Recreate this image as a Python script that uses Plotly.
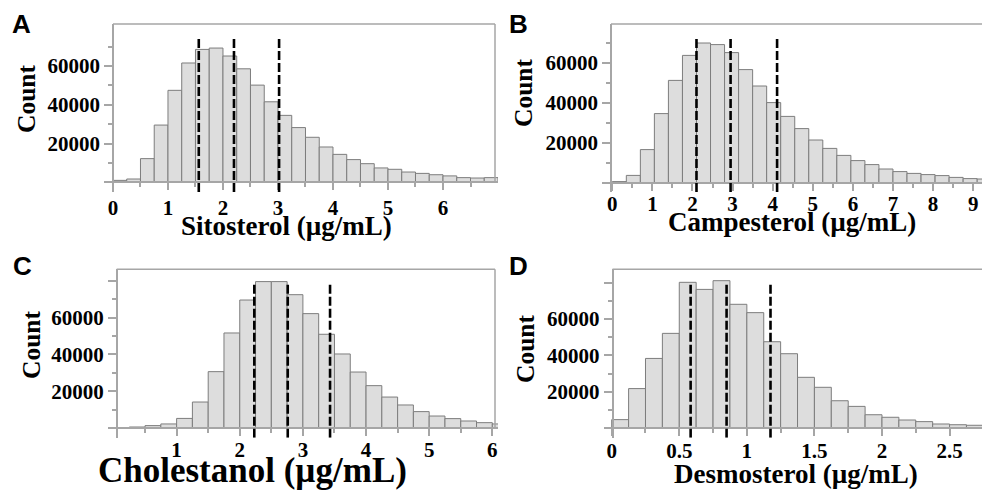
import plotly.graph_objects as go

W, H = 982, 490

# ---------------- data ----------------
sito_bin_start = 0.0
sito_bin_width = 0.25
sito_counts = [1000, 1700, 12200, 29500, 47400, 61500, 68500, 69200, 65100, 58500,
               50100, 41500, 34500, 28200, 23200, 18200, 14400, 11700, 9600, 7400,
               6700, 5300, 4600, 3900, 3300, 2400, 2200, 2400]
sito_quartiles = [1.56, 2.20, 3.02]

camp_bin_start = 0.0
camp_bin_width = 0.35
camp_counts = [700, 3800, 16700, 34700, 51300, 63800, 70000, 69200, 65200, 56700,
               48500, 40200, 33300, 27200, 21500, 17300, 13800, 11200, 9200, 7000,
               5700, 4800, 4200, 3700, 2800, 2200, 2000]
camp_quartiles = [2.10, 2.95, 4.11]

chol_bin_start = 0.25
chol_bin_width = 0.25
chol_counts = [540, 1300, 2200, 5200, 14100, 30600, 51600, 69500, 79500, 79500,
               72400, 62100, 50900, 40200, 30400, 23000, 16800, 12500, 8900, 6500,
               5100, 3800, 2900, 2200]
chol_quartiles = [2.23, 2.76, 3.43]

desm_bin_start = 0.0
desm_bin_width = 0.125
desm_counts = [4600, 21700, 38300, 52100, 80200, 76300, 81100, 68100, 63500, 47500,
               40900, 27900, 22400, 15000, 11900, 7300, 5900, 4400, 3500, 2200,
               1800, 1500]
desm_quartiles = [0.584, 0.85, 1.175]

panel_letters = ["A", "B", "C", "D"]
x_titles = ["Sitosterol (µg/mL)", "Campesterol (µg/mL)",
            "Cholestanol (µg/mL)", "Desmosterol (µg/mL)"]
y_title = "Count"

sito_xticks = [0, 1, 2, 3, 4, 5, 6]
camp_xticks = [0, 1, 2, 3, 4, 5, 6, 7, 8, 9]
chol_xticks = [1, 2, 3, 4, 5, 6]
desm_xticks = [0, 0.5, 1, 1.5, 2, 2.5]
desm_xticktext = ["0", "0.5", "1", "1.5", "2", "2.5"]

ytick_vals_ab = [0, 20000, 40000, 60000]
ytick_text_ab = ["", "20000", "40000", "60000"]
ytick_vals_cd = [0, 20000, 40000, 60000, 80000]
ytick_text_cd = ["", "20000", "40000", "60000", ""]
ytick_minor = [10000, 30000, 50000, 70000]

# ---------------- styling / geometry ----------------
BAR_FILL = "#dddddd"
BAR_EDGE = "#7d7d7d"
AX = "#a6a6a6"
SERIF = "Liberation Serif"
SANS = "Liberation Sans"

panels = [
    dict(start=sito_bin_start, width=sito_bin_width, counts=sito_counts, q=sito_quartiles,
         dom=(105, 498), xr=(-0.145, 7.0), top=24, base=182.3, bottom=192, per20k=38.8,
         ypos=113, rframe=495, xt=sito_xticks, xtt=[str(v) for v in sito_xticks], xminor=0.5,
         yt=ytick_vals_ab, ytt=ytick_text_ab, dtop=74200, standoff=0,
         title_xy=(286, 226), title_size=27, count_xy=(27, 99), letter_xy=(21, 24)),
    dict(start=camp_bin_start, width=camp_bin_width, counts=camp_counts, q=camp_quartiles,
         dom=(601.7, 982), xr=(-0.264, 9.22), top=24, base=183, bottom=192, per20k=40.0,
         ypos=611, rframe=None, xt=camp_xticks, xtt=[str(v) for v in camp_xticks], xminor=0.5,
         yt=ytick_vals_ab, ytt=ytick_text_ab, dtop=72300, standoff=-5,
         title_xy=(792, 222), title_size=27, count_xy=(523, 93), letter_xy=(518, 24)),
    dict(start=chol_bin_start, width=chol_bin_width, counts=chol_counts, q=chol_quartiles,
         dom=(108.3, 498), xr=(-0.082, 6.09), top=269.3, base=428, bottom=437.7, per20k=36.83,
         ypos=116.7, rframe=495, xt=chol_xticks, xtt=[str(v) for v in chol_xticks], xminor=0.5,
         yt=ytick_vals_cd, ytt=ytick_text_cd, dtop=78000, standoff=-4,
         title_xy=(253, 470), title_size=35, count_xy=(31, 345), letter_xy=(22, 266)),
    dict(start=desm_bin_start, width=desm_bin_width, counts=desm_counts, q=desm_quartiles,
         dom=(604, 982), xr=(-0.057, 2.74), top=269.3, base=428, bottom=437.7, per20k=36.33,
         ypos=612.5, rframe=None, xt=desm_xticks, xtt=desm_xticktext, xminor=0.25,
         yt=ytick_vals_cd, ytt=ytick_text_cd, dtop=79100, standoff=-3,
         title_xy=(796, 474), title_size=27, count_xy=(525, 349), letter_xy=(518, 266)),
]


def fx(px):
    return px / W


def fy(py):
    return 1 - py / H


fig = go.Figure()
layout = dict(width=W, height=H, margin=dict(l=0, r=0, t=0, b=0),
              paper_bgcolor="white", plot_bgcolor="white", showlegend=False)
shapes = []
annotations = []

for i, p in enumerate(panels):
    n = "" if i == 0 else str(i + 1)
    xa, ya = "x" + n, "y" + n
    ymax = (p["base"] - p["top"]) / p["per20k"] * 20000
    ymin = -(p["bottom"] - p["base"]) / p["per20k"] * 20000
    centers = [p["start"] + (k + 0.5) * p["width"] for k in range(len(p["counts"]))]
    fig.add_trace(go.Bar(x=centers, y=p["counts"], width=p["width"], xaxis=xa, yaxis=ya,
                         marker=dict(color=BAR_FILL, line=dict(color=BAR_EDGE, width=1)),
                         hoverinfo="skip"))
    tickfont = dict(family=SERIF, size=21, color="black", weight="bold")
    x0, x1 = p["xr"]
    minor_vals = []
    v = 0.0
    while v <= x1:
        if v >= x0 and abs(v - round(v / (2 * p["xminor"])) * 2 * p["xminor"]) > 1e-9:
            minor_vals.append(v)
        v += p["xminor"]
    layout["xaxis" + n] = dict(
        domain=[fx(p["dom"][0]), fx(p["dom"][1])], range=list(p["xr"]),
        anchor="free", position=fy(p["base"]),
        showline=True, linecolor=AX, linewidth=1.5,
        ticks="outside", ticklen=7, tickwidth=1.5, tickcolor=AX,
        tickmode="array", tickvals=p["xt"], ticktext=p["xtt"], tickfont=tickfont,
        ticklabelstandoff=p["standoff"],
        minor=dict(ticks="outside", ticklen=4, tickwidth=1.5, tickcolor=AX,
                   tickmode="array", tickvals=minor_vals),
        showgrid=False, zeroline=False, fixedrange=True)
    layout["yaxis" + n] = dict(
        domain=[fy(p["bottom"]), fy(p["top"])], range=[ymin, ymax],
        anchor="free", position=fx(p["ypos"]),
        showline=True, linecolor=AX, linewidth=1.5,
        ticks="outside", ticklen=8, tickwidth=1.5, tickcolor=AX,
        tickmode="array", tickvals=p["yt"], ticktext=p["ytt"], tickfont=tickfont,
        minor=dict(ticks="outside", ticklen=4, tickwidth=1.5, tickcolor=AX,
                   tickmode="array", tickvals=ytick_minor),
        showgrid=False, zeroline=False, fixedrange=True)
    # dashed quartile lines
    for q in p["q"]:
        shapes.append(dict(type="line", xref=xa, yref=ya, x0=q, x1=q, y0=ymin, y1=p["dtop"],
                           line=dict(color="black", width=2.6, dash="9px,3px")))
    # frame
    right = p["rframe"] if p["rframe"] is not None else W + 2
    shapes.append(dict(type="line", xref="paper", yref="paper",
                       x0=fx(p["ypos"]), x1=fx(right), y0=fy(p["top"]), y1=fy(p["top"]),
                       line=dict(color=AX, width=1.5)))
    if p["rframe"] is not None:
        shapes.append(dict(type="line", xref="paper", yref="paper",
                           x0=fx(right), x1=fx(right), y0=fy(p["base"]), y1=fy(p["top"]),
                           line=dict(color=AX, width=1.5)))
    # titles
    annotations.append(dict(text=x_titles[i], xref="paper", yref="paper",
                            x=fx(p["title_xy"][0]), y=fy(p["title_xy"][1]),
                            xanchor="center", yanchor="middle", showarrow=False,
                            font=dict(family=SERIF, size=p["title_size"], color="black", weight="bold")))
    annotations.append(dict(text=y_title, xref="paper", yref="paper", textangle=-90,
                            x=fx(p["count_xy"][0]), y=fy(p["count_xy"][1]),
                            xanchor="center", yanchor="middle", showarrow=False,
                            font=dict(family=SERIF, size=25.5, color="black", weight="bold")))
    annotations.append(dict(text=panel_letters[i], xref="paper", yref="paper",
                            x=fx(p["letter_xy"][0]), y=fy(p["letter_xy"][1]),
                            xanchor="center", yanchor="middle", showarrow=False,
                            font=dict(family=SANS, size=26, color="black", weight="bold")))

layout["shapes"] = shapes
layout["annotations"] = annotations
fig.update_layout(**layout)
fig.write_html("out.html", config={"displayModeBar": False},
               post_script="document.body.style.margin='0';document.body.style.overflow='hidden';")
